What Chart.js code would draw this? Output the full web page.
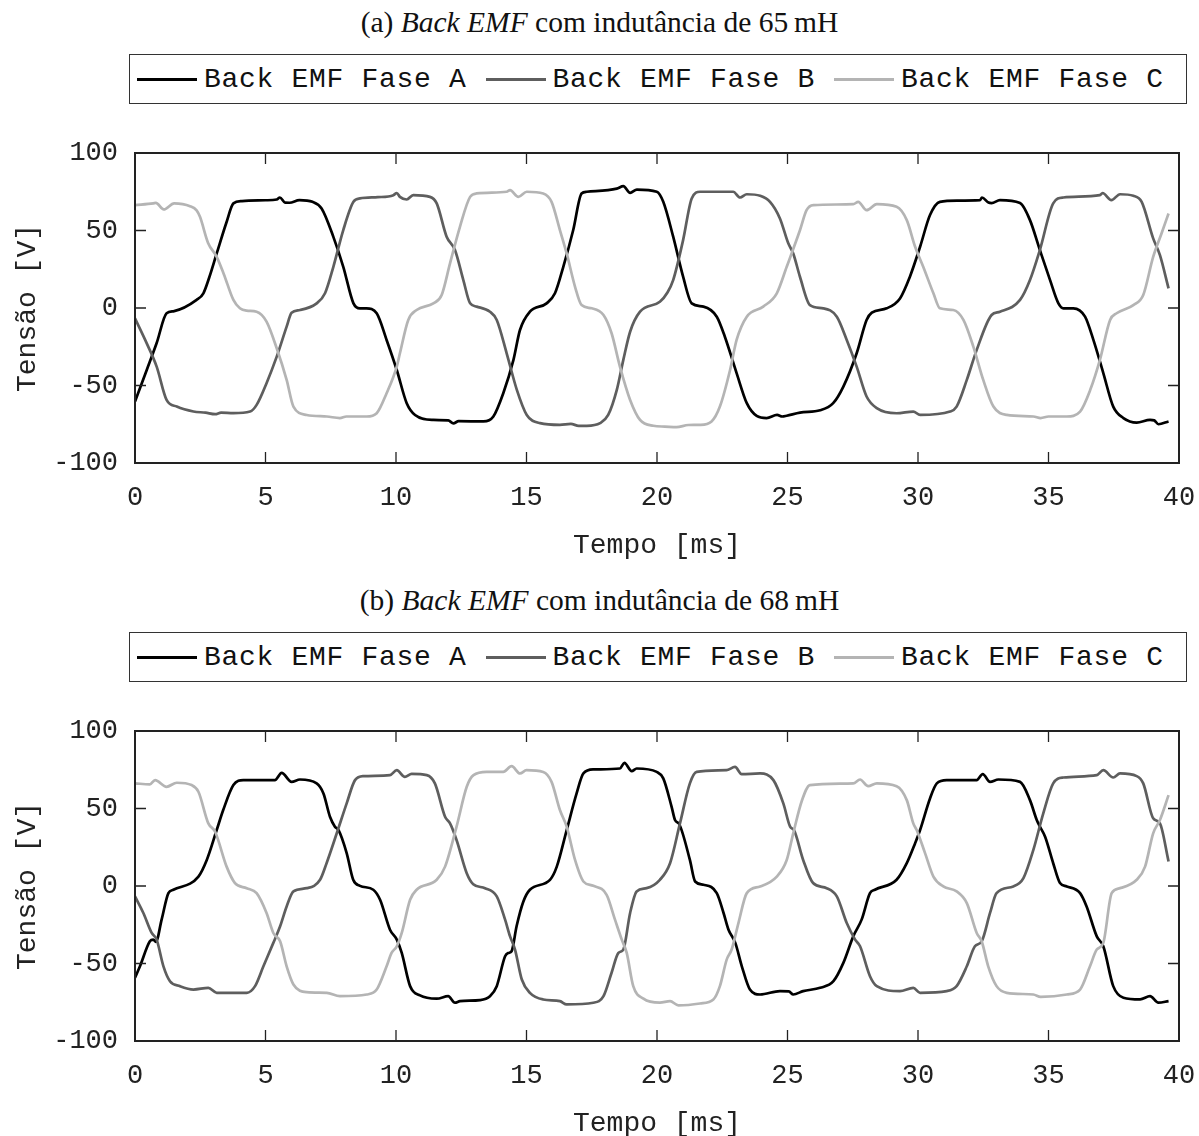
<!DOCTYPE html>
<html>
<head>
<meta charset="utf-8">
<script src="https://cdn.jsdelivr.net/npm/chart.js@4.4.1/dist/chart.umd.min.js"></script>
<style>
  body { margin: 0; width: 1199px; height: 1136px; overflow: hidden; background: #fff; }
  .panel { position: absolute; left: 0; width: 1199px; height: 578px; }
  .title { position: absolute; left: 0; width: 1199px; top: 7px; text-align: center;
           font: 29.5px "Liberation Serif", serif; line-height: 30px; color: #111; }
  .legend { position: absolute; left: 129px; top: 54px; width: 1058px; height: 50px;
            box-sizing: border-box; border: 1.5px solid #333; display: flex; align-items: center;
            padding-left: 7px; font: 28px "Liberation Mono", monospace; letter-spacing: 0.7px; color: #111; }
  .legend .item { display: flex; align-items: center; margin-right: 19px; white-space: pre; }
  .legend .swatch { width: 60px; height: 3px; margin-right: 7px; }
  canvas { position: absolute; left: 0; top: 0; }
</style>
</head>
<body>
<div class="panel" style="top:0">
  <div class="title">(a) <i>Back EMF</i> com indutância de 65&#8201;mH</div>
  <div class="legend" id="leg1"></div>
  <canvas id="c1" width="1199" height="578"></canvas>
</div>
<div class="panel" style="top:578px">
  <div class="title">(b) <i>Back EMF</i> com indutância de 68&#8201;mH</div>
  <div class="legend" id="leg2"></div>
  <canvas id="c2" width="1199" height="578"></canvas>
</div>
<script>
// [tempo ms, tensão V]
const faseA65 = [[0,-60.4],[0.45,-40],[0.83,-22.6],[1.21,-3.4],[1.5,-2],[2.36,5.2],[2.62,9.5],[2.85,20],[3.13,35.2],[3.5,55],[3.77,67.5],[4.1,69],[5.0,69.5],[5.43,70],[5.55,71.3],[5.75,68],[5.92,67.9],[6.3,69.6],[6.8,68.5],[7.15,64.2],[7.6,45.9],[7.98,26.6],[8.37,3],[8.62,-0.2],[8.87,-0.2],[9.26,-3.4],[9.64,-20.6],[10.03,-40],[10.41,-61.4],[10.73,-69],[11.43,-72.2],[12.0,-72.5],[12.2,-74.4],[12.4,-73],[13.35,-73.2],[13.73,-70],[14.11,-55],[14.5,-33.5],[14.75,-14.2],[15.13,-2.4],[15.77,3],[16.09,9.5],[16.41,26.6],[16.79,50.3],[17.11,73.9],[17.31,75],[18.46,77],[18.71,78.6],[18.97,74.3],[19.23,76.4],[19.99,75],[20.24,68.5],[20.62,46],[21.0,20.2],[21.33,3],[21.78,0.9],[22.29,-5.6],[22.6,-18.5],[23.05,-42],[23.44,-61.4],[23.82,-69.6],[24.2,-71],[24.6,-69],[24.8,-70],[24.97,-69.5],[25.48,-67.5],[26.25,-66],[26.75,-61.4],[27.14,-50.7],[27.65,-29.2],[28.03,-7.7],[28.23,-3],[28.8,-0.2],[29.31,6.2],[29.69,20.2],[30.08,39.5],[30.46,60],[30.84,68.5],[31.5,69.3],[32.38,69.6],[32.45,71.3],[32.7,68],[32.82,67.7],[33.14,69.6],[33.91,67.7],[34.29,56.7],[34.67,37.4],[35.06,18],[35.38,3],[35.57,-0.2],[35.95,-0.2],[36.4,-5.6],[36.72,-20.6],[37.1,-42],[37.48,-63.6],[37.87,-71],[38.38,-73.9],[38.89,-72.2],[39.05,-72.5],[39.21,-75],[39.6,-73.2]];
const faseB65 = [[0,-6.7],[0.45,-22.8],[0.83,-37.8],[1.21,-59.3],[1.6,-63.6],[2.24,-66.8],[2.7,-67.5],[3.07,-68.5],[3.3,-67.5],[3.77,-67.8],[4.41,-66.8],[4.66,-62.5],[5.04,-48.5],[5.43,-31.4],[5.81,-12],[6.0,-3],[6.32,-1.3],[6.96,3],[7.28,9.5],[7.6,26.6],[7.98,50.3],[8.37,68.5],[8.62,70.7],[9.3,71.5],[9.9,72.8],[10.03,74.2],[10.15,71.7],[10.41,70],[10.66,72.8],[11.3,71.7],[11.56,67.5],[11.94,46],[12.26,37.4],[12.58,18],[12.84,3],[13.09,0.9],[13.6,-2.4],[13.86,-7.7],[14.24,-29.2],[14.63,-52.8],[15.01,-69],[15.52,-74.3],[16.28,-75.4],[16.7,-74.8],[17.0,-76],[17.31,-76],[17.82,-74.3],[18.13,-69],[18.46,-52.8],[18.71,-33.5],[18.97,-15.3],[19.35,-2.4],[20.11,4],[20.4,10],[20.62,18],[21.0,43.8],[21.33,70.7],[21.65,75],[22.92,75],[23.18,71.3],[23.44,73.4],[23.95,72.4],[24.33,68.5],[24.71,57.8],[25.03,41.7],[25.22,35.2],[25.48,20],[25.86,1.9],[26.37,-0.2],[26.89,-5.6],[27.27,-20.6],[27.65,-37.8],[28.03,-57.1],[28.42,-64.6],[29.18,-67.9],[29.82,-66.8],[30.08,-69],[31.23,-66.8],[31.48,-63.6],[31.87,-46.4],[32.25,-27],[32.82,-4.5],[33.14,-2.4],[33.91,5.2],[34.29,18],[34.67,37.4],[35.18,67.5],[35.57,71.3],[36.97,72.8],[37.07,74.2],[37.41,69.6],[37.74,73.4],[38.25,72.4],[38.57,68.5],[39.01,44.9],[39.27,34.1],[39.6,12.7]];
const faseC65 = [[0,66.4],[0.7,67.5],[0.8,67.8],[1.1,63.6],[1.5,67.5],[2.11,65.7],[2.36,63],[2.49,58.8],[2.8,42],[3.13,33],[3.4,22],[3.77,5.2],[4.02,-0.2],[4.28,-1.7],[4.66,-2.4],[5.04,-8.8],[5.43,-26],[5.81,-46.4],[6.07,-63.6],[6.58,-69],[7.35,-70],[7.85,-71],[8.1,-70],[8.88,-70],[9.26,-67.9],[9.64,-55],[10.03,-37.8],[10.15,-29.2],[10.47,-7.7],[10.79,-1.3],[11.43,3],[11.75,8.4],[12.07,28.8],[12.45,52.4],[12.84,71.7],[13.09,73.9],[14.24,75],[14.37,76],[14.69,71.7],[15.01,75],[15.64,73.9],[15.96,68.5],[16.28,50.3],[16.54,35.2],[16.86,13.7],[17.11,1.9],[17.5,-0.2],[17.95,-4.5],[18.26,-16.3],[18.58,-37.8],[18.97,-59.3],[19.35,-72.2],[19.86,-76],[20.3,-76.5],[20.75,-76.9],[21.2,-75.5],[21.65,-75.4],[22.09,-73.2],[22.41,-63.6],[22.8,-40],[23.05,-20.6],[23.44,-5.6],[24.07,0.9],[24.59,9.5],[24.97,26.6],[25.48,50.3],[25.73,63.1],[25.99,66.4],[27.52,67],[27.71,68.5],[28.03,63.1],[28.42,67],[29.18,65.3],[29.57,56.7],[29.89,39.5],[30.2,26.6],[30.59,9.5],[30.84,-0.2],[31.35,-1.3],[31.74,-7.7],[32.12,-24.9],[32.5,-46.4],[32.89,-63.6],[33.4,-69],[34.42,-70],[34.7,-71],[35.0,-70],[35.7,-70],[36.21,-66.8],[36.6,-52.8],[36.97,-33.5],[37.36,-7.7],[37.61,-3.4],[38.25,1.9],[38.63,8.4],[39.01,33],[39.33,48.1],[39.6,61]];

const faseA68 = [[0,-59.2],[0.19,-51.8],[0.57,-35.7],[0.7,-34.6],[0.8,-36],[1.02,-21.7],[1.28,-4.6],[1.47,-2.4],[2.43,6.1],[2.75,16.8],[3.13,36.1],[3.38,49],[3.77,65.1],[4.15,68.3],[5.36,68.3],[5.62,73],[6.0,67.2],[6.32,68.7],[6.96,66.2],[7.22,59.7],[7.47,44.7],[7.66,38.3],[7.8,36],[8.11,21.2],[8.36,4],[8.62,0.1],[9.13,-2.4],[9.39,-8.9],[9.77,-28.2],[10.03,-34.6],[10.22,-43.2],[10.54,-64.6],[10.92,-70.6],[11.56,-72.7],[12.0,-71.1],[12.26,-75.3],[12.45,-74.3],[13.22,-73.6],[13.6,-71.1],[13.86,-64.6],[14.18,-45.3],[14.31,-43.2],[14.43,-42.1],[14.62,-26],[14.88,-10],[15.13,-2.4],[15.9,4],[16.16,12.5],[16.54,36.1],[16.92,59.7],[17.18,72.6],[17.56,75.2],[18.58,75.8],[18.75,79.4],[19.03,74.1],[19.22,75.8],[19.99,73.6],[20.24,69.4],[20.56,51.1],[20.69,42.6],[20.85,40],[21.26,16.8],[21.46,2.9],[21.78,0.8],[22.29,-4.6],[22.55,-17.4],[22.74,-28.2],[23.0,-36.7],[23.25,-51.8],[23.56,-66.8],[23.95,-70],[24.71,-67.8],[25.05,-68],[25.22,-70],[25.6,-67.8],[26.25,-65.7],[26.76,-61.4],[27.14,-49.6],[27.52,-32.5],[27.84,-21.7],[28.16,-4.6],[28.35,-2.4],[29.18,4],[29.57,14.7],[29.89,27.6],[30.08,36.1],[30.46,56.5],[30.72,66.2],[31.1,68.3],[32.25,68.3],[32.48,72.2],[32.76,67.2],[33.08,68.7],[33.91,67.2],[34.29,55.4],[34.55,42.6],[34.67,38.3],[34.87,31.8],[35.18,14.7],[35.44,1.9],[35.7,-0.3],[36.21,-4.6],[36.46,-13.2],[36.85,-32.5],[37.1,-38.9],[37.48,-64.6],[37.87,-72.1],[38.51,-73.2],[38.89,-71.1],[39.21,-75.3],[39.6,-74.3]];
const faseB68 = [[0,-6.7],[0.32,-17.4],[0.64,-30.3],[0.83,-34.6],[1.09,-51.8],[1.34,-61.4],[1.72,-64.6],[2.24,-66.8],[2.81,-65.7],[3.13,-68.9],[4.28,-68.9],[4.6,-64.6],[4.92,-51.8],[5.3,-36.7],[5.56,-26],[5.81,-13.2],[6.07,-3.5],[6.58,-1.4],[7.09,4],[7.34,14.7],[7.73,34],[8.11,53.3],[8.43,68.3],[8.75,70.9],[9.77,71.5],[10.03,74.7],[10.34,70.4],[10.6,72.3],[11.18,71.5],[11.49,66.2],[11.88,44.7],[12.07,40.4],[12.32,29.7],[12.71,8.3],[12.96,1.2],[13.41,-1.4],[13.86,-6.7],[14.18,-21.7],[14.37,-32.5],[14.56,-41],[14.82,-60.3],[15.13,-68.9],[15.64,-73.2],[16.28,-74.3],[16.54,-76.4],[17.56,-75.3],[17.95,-71.1],[18.26,-56],[18.52,-43.2],[18.71,-41],[18.97,-17.4],[19.22,-3.5],[19.6,-1.4],[20.11,4],[20.5,14.7],[20.88,40.4],[21.26,66.2],[21.52,73.6],[22.66,74.7],[22.99,76.8],[23.24,72.2],[23.95,72.6],[24.46,68.3],[24.84,53.3],[25.1,38.3],[25.25,36],[25.6,16.8],[25.98,1.9],[26.5,-1.4],[26.89,-6.7],[27.27,-23.9],[27.59,-34.6],[27.78,-38.9],[28.16,-58.2],[28.42,-64.6],[29.31,-67.8],[29.82,-65.7],[30.08,-68.9],[31.1,-67.8],[31.48,-64.6],[31.87,-51.8],[32.18,-38.9],[32.44,-35.7],[32.76,-17.4],[33.01,-4.6],[33.65,-0.3],[34.04,5.1],[34.42,23.3],[34.8,46.9],[35.18,66.2],[35.57,70],[36.85,71.5],[37.1,74.7],[37.48,70],[37.74,72.6],[38.38,70.9],[38.63,66.2],[39.01,43.7],[39.27,40.4],[39.6,15.8]];
const faseC68 = [[0,66.2],[0.57,65.6],[0.77,68.3],[1.21,64],[1.6,66.6],[2.17,65.1],[2.43,60.8],[2.81,40.4],[3.07,35],[3.51,12.5],[3.83,1.9],[4.28,-1.4],[4.66,-4.6],[5.04,-17.4],[5.3,-30.3],[5.56,-35.7],[5.81,-51.8],[6.07,-63.5],[6.58,-68.5],[7.35,-68.9],[7.85,-71.1],[8.88,-70],[9.26,-66.8],[9.64,-51.8],[9.83,-43.2],[10.03,-38.9],[10.22,-30.3],[10.54,-8.9],[10.79,-2.4],[11.56,4],[11.88,12.5],[12.32,38.3],[12.71,64],[12.97,71.5],[13.47,73.6],[14.11,73.6],[14.43,77.3],[14.75,72.6],[15.0,74.7],[15.64,73.6],[15.96,67.2],[16.28,49],[16.54,38.3],[16.86,16.8],[17.18,2.9],[17.56,0.1],[18.07,-5.7],[18.39,-21.7],[18.65,-34.6],[18.84,-43.2],[19.09,-64.6],[19.48,-72.7],[20.11,-75.3],[20.5,-74.3],[20.82,-77],[21.65,-75.8],[22.16,-73.2],[22.41,-64.6],[22.67,-47.5],[22.86,-41],[23.12,-23.9],[23.44,-4.6],[23.95,-0.3],[24.59,6.1],[24.97,16.8],[25.22,34],[25.55,55],[25.86,65.1],[27.52,66.2],[27.78,68.7],[28.09,64.4],[28.42,66.2],[29.18,64.4],[29.57,55.4],[29.82,40.4],[29.95,36.1],[30.27,21.2],[30.59,6.1],[30.97,-0.3],[31.48,-3.5],[31.87,-11],[32.25,-30.3],[32.44,-35.7],[32.69,-51.8],[33.01,-64.6],[33.4,-68.9],[34.42,-70],[34.7,-71.5],[35.7,-70],[36.21,-66.8],[36.59,-51.8],[36.85,-41],[37.1,-36.7],[37.42,-4.6],[37.74,-1.4],[38.38,4],[38.7,12.5],[39.01,34],[39.27,42.6],[39.6,58.6]];

const nomes = ['Back EMF Fase A', 'Back EMF Fase B', 'Back EMF Fase C'];
const cores = ['#000000', '#5e5e5e', '#b4b4b4'];
const xTicks = [0, 5, 10, 15, 20, 25, 30, 35, 40];
const yTicks = [-100, -50, 0, 50, 100];

const toXY = arr => arr.map(([x, y]) => ({x, y}));

// moldura com marcas de escala para dentro
const moldura = {
  id: 'moldura',
  afterDatasetsDraw(chart) {
    const {ctx, chartArea: a, scales: {x, y}} = chart;
    ctx.save();
    ctx.strokeStyle = '#222';
    ctx.lineWidth = 1.3;
    ctx.beginPath();
    x.ticks.forEach((t, i) => {
      const px = x.getPixelForTick(i);
      ctx.moveTo(px, a.bottom); ctx.lineTo(px, a.bottom - 11);
      ctx.moveTo(px, a.top); ctx.lineTo(px, a.top + 11);
    });
    y.ticks.forEach((t, i) => {
      const py = y.getPixelForTick(i);
      ctx.moveTo(a.left, py); ctx.lineTo(a.left + 11, py);
      ctx.moveTo(a.right, py); ctx.lineTo(a.right - 11, py);
    });
    ctx.stroke();
    ctx.lineWidth = 2;
    ctx.strokeRect(a.left, a.top, a.right - a.left, a.bottom - a.top);
    ctx.restore();
  }
};

// legenda em HTML dentro de uma caixa
const legendaHtml = {
  id: 'legendaHtml',
  afterUpdate(chart, args, opts) {
    const box = document.getElementById(opts.containerID);
    box.innerHTML = '';
    chart.options.plugins.legend.labels.generateLabels(chart)
      .sort((a, b) => a.datasetIndex - b.datasetIndex)
      .forEach(item => {
        const el = document.createElement('span');
        el.className = 'item';
        const sw = document.createElement('span');
        sw.className = 'swatch';
        sw.style.background = item.strokeStyle;
        const tx = document.createElement('span');
        tx.textContent = item.text;
        el.appendChild(sw); el.appendChild(tx);
        box.appendChild(el);
      });
  }
};

function grafico(canvasId, legendId, series) {
  new Chart(document.getElementById(canvasId), {
    type: 'line',
    data: {
      datasets: series.map((s, i) => ({
        label: nomes[i],
        data: toXY(s),
        borderColor: cores[i],
        backgroundColor: cores[i],
        borderWidth: 2.7,
        pointRadius: 0,
        cubicInterpolationMode: 'monotone',
        order: 3 - i
      }))
    },
    options: {
      responsive: false,
      animation: false,
      layout: { padding: { top: 153, right: 20, left: 0, bottom: 0 } },
      plugins: {
        legend: { display: false },
        tooltip: { enabled: false },
        legendaHtml: { containerID: legendId }
      },
      scales: {
        x: {
          type: 'linear', min: 0, max: 40,
          afterBuildTicks: s => { s.ticks = xTicks.map(v => ({value: v})); },
          afterFit: s => { s.height = 115; s.paddingLeft = 0; s.paddingRight = 0; },
          grid: { display: false, drawTicks: false },
          border: { display: false },
          ticks: { padding: 19, color: '#222', font: { family: 'Liberation Mono', size: 27 } },
          title: { display: true, text: 'Tempo [ms]', color: '#222', padding: { top: 0, bottom: 16 },
                   font: { family: 'Liberation Mono', size: 28 } }
        },
        y: {
          min: -100, max: 100,
          afterBuildTicks: s => { s.ticks = yTicks.map(v => ({value: v})); },
          afterFit: s => { s.width = 135; },
          grid: { display: false, drawTicks: false },
          border: { display: false },
          ticks: { padding: 17, color: '#222', font: { family: 'Liberation Mono', size: 27 } },
          title: { display: true, text: 'Tensão [V]', color: '#222', padding: { top: 11, bottom: 0 },
                   font: { family: 'Liberation Mono', size: 28 } }
        }
      }
    },
    plugins: [moldura, legendaHtml]
  });
}

grafico('c1', 'leg1', [faseA65, faseB65, faseC65]);
grafico('c2', 'leg2', [faseA68, faseB68, faseC68]);
</script>
</body>
</html>
